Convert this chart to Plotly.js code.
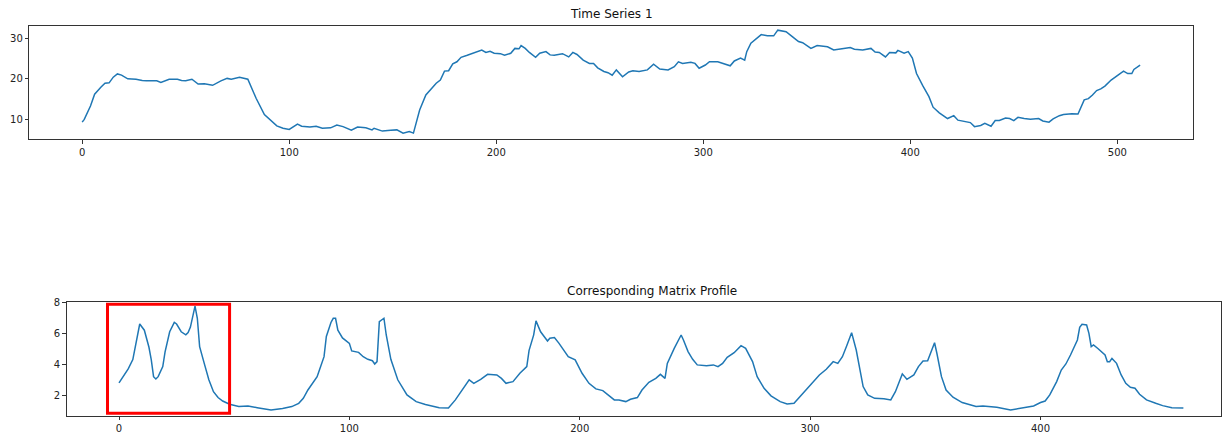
<!DOCTYPE html>
<html>
<head>
<meta charset="utf-8">
<script src="https://cdn.plot.ly/plotly-3.0.1.min.js"></script>
<style>html,body{margin:0;padding:0;background:#fff;}#chart{width:1222px;height:435px;}</style>
</head>
<body>
<div id="chart"></div>
<script>
// Time Series 1 (sample index, value)
const tsIndex = [0,1,4,6,9,11,13,15,17,19,22,26,29,31,36,38,42,46,48,50,53,56,59,63,67,70,72,76,80,81,84,88,91,94,97,100,104,106,110,113,116,120,123,126,130,133,137,140,141,145,149,152,155,158,160,163,166,169,171,173,175,177,179,181,183,186,189,191,193,195,197,199,202,204,207,209,211,212,214,216,219,221,224,226,228,232,235,237,239,242,245,247,249,252,254,256,258,261,264,266,269,273,276,279,283,286,288,290,294,296,298,301,303,307,310,313,315,318,320,321,323,326,328,331,334,336,340,343,346,348,352,355,360,363,365,367,371,373,377,381,383,385,388,390,393,394,397,399,401,403,406,409,411,414,418,421,423,427,429,431,434,436,439,441,443,446,448,450,452,455,458,462,464,467,469,472,474,478,481,484,486,488,490,492,494,497,499,501,503,505,507,508,509,511];
const tsValue = [9.3,10.0,13.3,16.2,17.9,18.9,19.0,20.4,21.2,20.9,20.0,19.9,19.6,19.5,19.5,19.1,19.9,19.9,19.6,19.5,19.9,18.7,18.8,18.4,19.5,20.1,19.9,20.4,19.9,18.7,15.2,11.2,9.8,8.4,7.8,7.5,8.8,8.3,8.1,8.3,7.8,7.9,8.6,8.2,7.3,8.1,7.9,7.4,7.8,7.1,7.3,7.4,6.6,7.0,6.6,12.3,16.0,17.6,18.9,19.7,21.9,22.0,23.7,24.2,25.3,25.8,26.3,26.7,27.1,26.5,26.8,26.3,26.2,25.8,26.3,27.5,27.4,28.2,27.5,26.5,25.3,26.3,26.7,25.9,25.8,26.2,25.4,26.5,26.0,24.6,23.8,23.8,22.7,21.8,21.5,20.9,22.2,20.5,21.7,22.0,21.8,22.2,23.6,22.4,22.2,23.0,24.2,23.8,24.1,23.8,22.6,23.4,24.2,24.2,23.7,23.2,24.4,25.1,24.6,26.7,28.8,30.2,30.9,30.6,30.6,32.0,31.6,30.4,29.2,28.9,27.5,28.2,27.9,27.1,27.3,27.4,27.7,27.3,27.1,27.5,26.6,26.5,25.4,26.5,26.4,27.0,26.3,26.7,25.1,21.3,18.3,15.6,13.0,11.6,10.2,10.9,9.8,9.4,9.2,8.2,8.5,9.0,8.3,9.7,9.7,10.3,10.2,9.7,10.5,10.2,10.0,10.2,9.6,9.3,10.1,10.9,11.2,11.4,11.3,14.8,15.1,16.0,17.1,17.5,18.2,19.7,20.4,21.3,21.9,21.3,21.3,22.3,22.6,23.4];

// Corresponding Matrix Profile (sample index, value)
const mpIndex = [0,2,4,6,7,8,9,11,13,14,15,16,17,19,20,22,24,25,27,29,30,31,33,34,35,37,39,41,43,45,48,52,56,60,66,71,75,78,80,82,84,86,87,89,90,92,93,94,95,97,100,101,104,106,108,110,111,112,113,115,116,118,121,125,129,133,139,143,146,149,152,154,157,160,164,166,168,171,174,177,178,180,181,183,186,187,189,191,195,198,199,201,204,207,210,212,215,217,220,222,225,227,230,233,235,237,238,241,244,245,247,249,251,255,258,260,262,264,267,270,272,275,277,280,283,287,290,293,295,298,301,304,307,310,312,314,316,318,320,322,323,325,328,332,335,337,339,340,342,345,347,349,351,352,354,355,357,359,362,366,372,375,381,387,392,397,400,402,404,407,409,411,413,416,417,418,420,421,422,423,425,427,428,429,430,431,433,435,437,439,441,443,446,450,453,457,462];
const mpValue = [2.8,3.24,3.7,4.3,5.1,6.0,6.6,6.2,5.1,4.3,3.2,3.05,3.2,3.85,4.8,6.1,6.7,6.6,6.1,5.9,6.05,6.4,7.76,6.97,5.14,4.06,3.0,2.23,1.85,1.63,1.42,1.27,1.31,1.2,1.05,1.14,1.27,1.48,1.8,2.34,2.77,3.2,3.63,4.49,5.8,6.7,6.97,6.97,6.2,5.7,5.35,4.86,4.77,4.49,4.32,4.23,4.02,4.17,6.75,6.97,5.89,4.32,3.0,2.02,1.59,1.4,1.2,1.18,1.7,2.34,2.99,2.77,3.03,3.35,3.31,3.09,2.77,2.88,3.42,3.85,4.9,5.9,6.8,6.1,5.5,5.68,5.72,5.35,4.49,4.28,4.02,3.42,2.77,2.41,2.3,2.08,1.7,1.7,1.59,1.74,1.85,2.34,2.84,3.09,3.35,3.09,4.06,5.03,5.89,5.57,4.82,4.32,3.96,3.91,3.96,3.85,4.06,4.45,4.75,5.2,5.03,4.17,3.2,2.45,1.96,1.59,1.44,1.48,1.8,2.34,2.77,3.31,3.68,4.17,4.06,4.49,5.25,6.04,4.92,3.42,2.56,2.02,1.8,1.78,1.7,2.23,3.09,3.38,3.03,3.31,3.85,4.21,4.23,4.64,5.39,4.71,3.2,2.34,1.87,1.53,1.27,1.31,1.22,1.05,1.18,1.31,1.53,1.63,2.02,2.88,3.63,4.02,4.6,5.57,6.38,6.58,6.54,6.0,5.14,5.25,5.0,4.71,4.6,4.17,4.17,4.38,4.06,3.31,2.77,2.51,2.45,2.06,1.7,1.48,1.33,1.2,1.18];

const tsTicks = [0,100,200,300,400,500];
const tsYTicks = [10,20,30];
const mpTicks = [0,100,200,300,400];
const mpYTicks = [2,4,6,8];

const W = 1222, H = 435;
const font = 'DejaVu Sans, sans-serif';
function axisStyle(extra){
  return Object.assign({
    showgrid:false, zeroline:false, showline:true, mirror:true,
    linecolor:'#333', linewidth:1, ticks:'outside', ticklen:3.5, tickwidth:1,
    tickcolor:'#333', tickfont:{family:font,size:10,color:'#222'}, automargin:false,
    fixedrange:true
  }, extra);
}

const traces = [
  {x:tsIndex, y:tsValue, type:'scatter', mode:'lines', line:{color:'#1f77b4', width:1.5}, xaxis:'x', yaxis:'y', hoverinfo:'skip'},
  {x:mpIndex, y:mpValue, type:'scatter', mode:'lines', line:{color:'#1f77b4', width:1.5}, xaxis:'x2', yaxis:'y2', hoverinfo:'skip'}
];

const layout = {
  width:W, height:H, margin:{l:0,r:0,t:0,b:0},
  paper_bgcolor:'#fff', plot_bgcolor:'#fff', showlegend:false,
  xaxis: axisStyle({domain:[29.3/W, 1193/W], range:[-25.55,536.55], tickvals:tsTicks, anchor:'y'}),
  yaxis: axisStyle({domain:[1-139/H, 1-25.7/H], range:[5.15,33.1], tickvals:tsYTicks, anchor:'x'}),
  xaxis2: axisStyle({domain:[66.7/W, 1220.7/W], range:[-22.7,478.2], tickvals:mpTicks, anchor:'y2'}),
  yaxis2: axisStyle({domain:[1-415.7/H, 1-301.7/H], range:[0.68,8.04], tickvals:mpYTicks, anchor:'x2'}),
  shapes:[
    {type:'rect', xref:'x2', yref:'y2', x0:-5, x1:48, y0:0.84, y1:7.87, line:{color:'#ff0000', width:3}, fillcolor:'rgba(0,0,0,0)'}
  ],
  annotations:[
    {text:'Time Series 1', xref:'paper', yref:'paper', x:611/W, y:1-14.3/H, xanchor:'center', yanchor:'middle', showarrow:false, font:{family:font,size:12,color:'#111'}},
    {text:'Corresponding Matrix Profile', xref:'paper', yref:'paper', x:652/W, y:1-290.5/H, xanchor:'center', yanchor:'middle', showarrow:false, font:{family:font,size:12,color:'#111'}}
  ]
};

Plotly.newPlot('chart', traces, layout, {staticPlot:true, displayModeBar:false});
</script>
</body>
</html>
